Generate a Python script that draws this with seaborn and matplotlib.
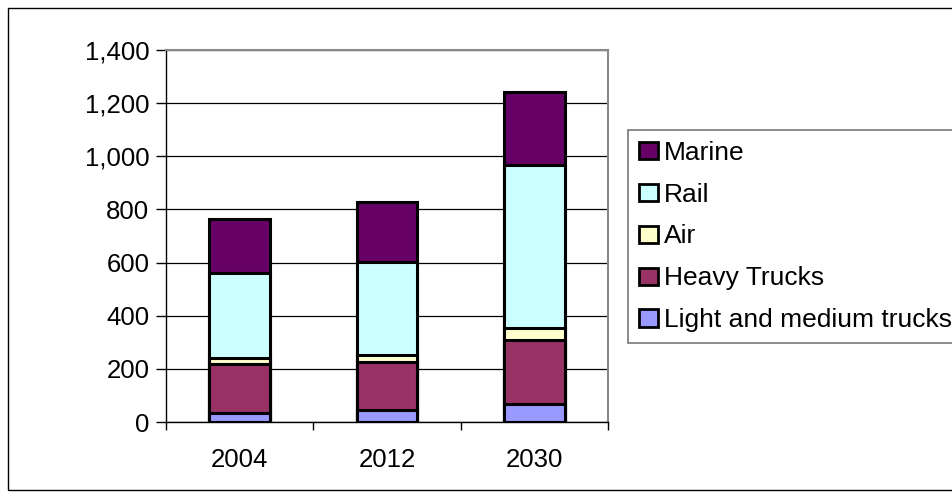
import numpy as np
import pandas as pd
import matplotlib
matplotlib.use("Agg")
import matplotlib.pyplot as plt
import matplotlib.patches as mpatches
import seaborn as sns

# Data
years = ["2004", "2012", "2030"]
light_medium = [35, 47, 68]
heavy_trucks = [185, 180, 242]
air = [22, 24, 45]
rail = [320, 350, 612]
marine = [202, 228, 275]

series_names = ["Light and medium trucks", "Heavy Trucks", "Air", "Rail", "Marine"]
series_values = [light_medium, heavy_trucks, air, rail, marine]
series_colors = ["#9999FF", "#993366", "#FFFFCC", "#CCFFFF", "#660066"]

sns.set_theme(style="white")
plt.rcParams["font.family"] = ["Liberation Sans", "DejaVu Sans"]
plt.rcParams["text.color"] = "black"
plt.rcParams["xtick.color"] = "black"
plt.rcParams["ytick.color"] = "black"

fig = plt.figure(figsize=(9.53, 5.0), dpi=100)
ax = fig.add_axes([166 / 953, 1 - 422 / 500, 442 / 953, 372 / 500])

# Cumulative stacks, drawn from the top layer down so each one overlays the previous
cum = np.cumsum(np.array(series_values), axis=0)
for i in range(len(series_names) - 1, -1, -1):
    df = pd.DataFrame({"year": years, "value": cum[i]})
    sns.barplot(data=df, x="year", y="value", color=series_colors[i], ax=ax,
                width=0.41, edgecolor="black", linewidth=2.2, saturation=1,
                legend=False, zorder=3)

ax.set_ylim(0, 1400)
ax.set_xlim(-0.5, 2.5)
ax.set_yticks(range(0, 1401, 200))
ax.set_yticklabels([f"{v:,}" for v in range(0, 1401, 200)])
ax.set_xlabel("")
ax.set_ylabel("")
ax.grid(axis="y", color="black", linewidth=0.9, zorder=0)
ax.grid(axis="x", visible=False)

for s in ["top", "right"]:
    ax.spines[s].set_color("#888888")
    ax.spines[s].set_linewidth(1.5)
for s in ["left", "bottom"]:
    ax.spines[s].set_color("black")
    ax.spines[s].set_linewidth(1.0)

ax.tick_params(axis="y", left=True, direction="out", length=7, width=1,
               color="black", labelsize=18.5, pad=5)
ax.tick_params(axis="x", which="major", bottom=False, labelsize=18.5, pad=13)
ax.set_xticks([-0.5, 0.5, 1.5, 2.5], minor=True)
ax.tick_params(axis="x", which="minor", bottom=True, direction="out", length=6,
               width=1, color="black")

handles = [mpatches.Patch(facecolor=series_colors[i], edgecolor="black", linewidth=2)
           for i in range(len(series_names) - 1, -1, -1)]
labels = series_names[::-1]
leg = fig.legend(handles, labels, loc="upper left", bbox_to_anchor=(628 / 953, 1 - 130 / 500),
                 fontsize=19, frameon=True, fancybox=False, handlelength=0.72,
                 handleheight=0.62, handletextpad=0.25, labelspacing=0.68,
                 borderpad=0.4, borderaxespad=0)
leg.get_frame().set_edgecolor("#555555")
leg.get_frame().set_linewidth(1.2)

# Outer chart-area frame
fig.patches.append(mpatches.Rectangle((8 / 953, 1 - 490 / 500), 1.0, 482 / 500,
                                      transform=fig.transFigure, fill=False,
                                      edgecolor="black", linewidth=1.0))

fig.savefig("out.png", dpi=100)
